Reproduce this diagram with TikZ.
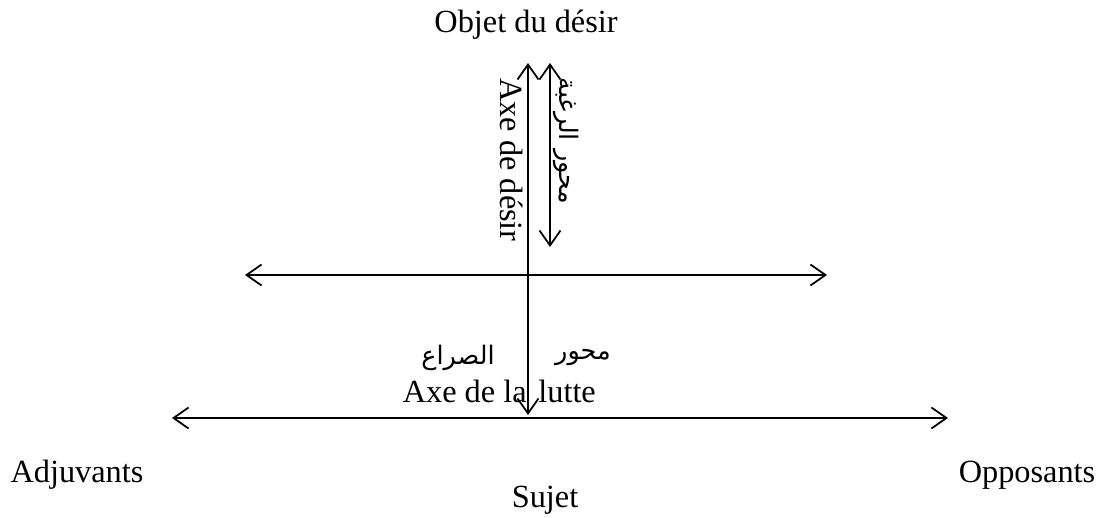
\documentclass[tikz,border=0pt]{standalone}
\usepackage{fontspec}
\setmainfont{Liberation Serif}
\newfontfamily\arabicfont[Script=Arabic]{DejaVu Sans}
\TeXXeTstate=1
\usetikzlibrary{arrows.meta}

\begin{document}
\begin{tikzpicture}[x=0.02cm,y=-0.02cm,
    axe/.style={line width=1pt,
      {Straight Barb[length=0.3cm,width=0.42cm]}-{Straight Barb[length=0.3cm,width=0.42cm]}},
    texte/.style={inner sep=0pt,font=\fontsize{18.4}{22}\selectfont},
    arabe/.style={inner sep=0pt,font=\fontsize{14.5}{18}\arabicfont}]
  \useasboundingbox (0,0) rectangle (1104,517);

  % Extrémités des axes
  \coordinate (desirHaut) at (528,63);
  \coordinate (desirBas) at (528,415);
  \coordinate (raghbaHaut) at (550,63);
  \coordinate (raghbaBas) at (550,247);
  \coordinate (milieuG) at (245,275);
  \coordinate (milieuD) at (827,275);
  \coordinate (lutteG) at (172,418);
  \coordinate (lutteD) at (948,418);

  % Axes
  \draw[axe] (desirHaut) -- (desirBas);     % axe de désir
  \draw[axe] (raghbaHaut) -- (raghbaBas);   % محور الرغبة
  \draw[axe] (milieuG) -- (milieuD);
  \draw[axe] (lutteG) -- (lutteD);          % axe de la lutte

  % Actants
  \node[texte,anchor=base] (objet) at (526,33) {Objet du désir};
  \node[texte,anchor=base] (adjuvants) at (77,482) {Adjuvants};
  \node[texte,anchor=base] (opposants) at (1027,482) {Opposants};
  \node[texte,anchor=base] (sujet) at (545,507) {Sujet};

  % Noms des axes
  \node[texte,rotate=-90] (axeDesir) at (512,160) {Axe de désir};
  \node[arabe,rotate=-90] (axeRaghba) at (566,141) {\beginR محور الرغبة\endR};
  \node[arabe] (sira) at (458,358) {\beginR الصراع\endR};
  \node[arabe] (mihwar) at (583,358) {\beginR محور\endR};
  \node[texte,anchor=base east] (axeLa) at (527,402) {Axe de la};
  \node[texte,anchor=base west] (lutte) at (538,402) {lutte};
\end{tikzpicture}
\end{document}
